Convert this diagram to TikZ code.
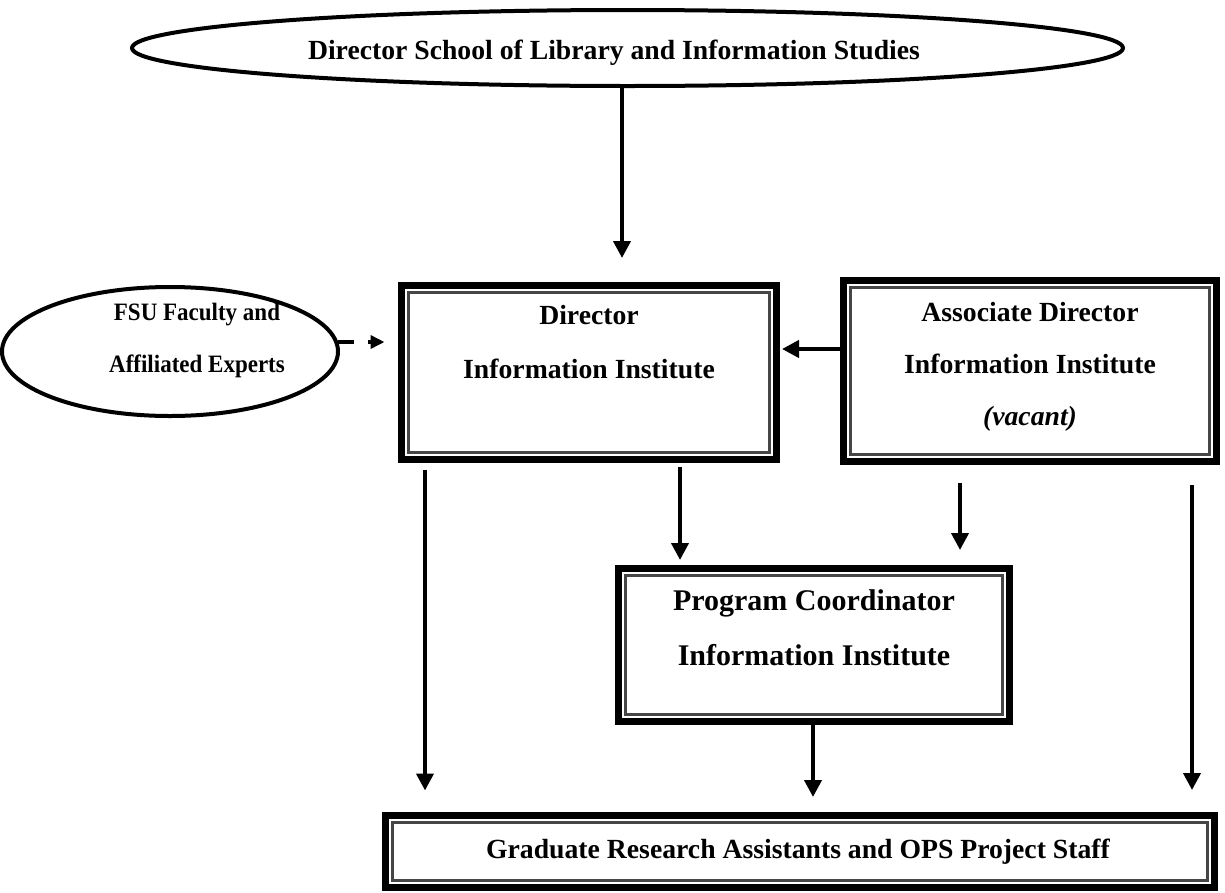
\documentclass[tikz,border=0pt]{standalone}
\usepackage{fontspec}
\setmainfont{Liberation Serif}
\newfontfamily\narrowserif[FakeStretch=0.92]{Liberation Serif}
\usetikzlibrary{arrows.meta,shapes.geometric}
\begin{document}
\begin{tikzpicture}[x=1pt,y=-1pt,
  dbox/.style={draw, line width=7pt, rectangle, outer sep=0pt, inner sep=0pt,
    path picture={\draw[gray!55!black, line width=2.5pt]
      ([shift={(7pt,-7pt)}]path picture bounding box.north west) rectangle
      ([shift={(-7pt,7pt)}]path picture bounding box.south east);}},
  oval/.style={draw, ellipse, line width=4pt, inner sep=0pt, outer sep=0pt},
  txt/.style={font=\fontsize{27.7}{54}\selectfont\bfseries, align=center, inner sep=0pt},
  arr/.style={line width=4pt, -{Triangle[length=17pt,width=17pt]}},
  darr/.style={line width=4pt, dash pattern=on 16pt off 14pt, -{Triangle[length=14pt,width=13pt]}}
]
\useasboundingbox (0,0) rectangle (1225,892);

% shapes
\node[oval, minimum width=991pt, minimum height=76pt] (top) at (627.5,48) {};
\node[oval, minimum width=336pt, minimum height=129pt] (fsu) at (170,351.5) {};
\node[dbox, minimum width=375pt, minimum height=174pt] (dir) at (589,372.5) {};
\node[dbox, minimum width=373pt, minimum height=181pt] (assoc) at (1030,371) {};
\node[dbox, minimum width=391pt, minimum height=153pt] (pc) at (814,645) {};
\node[dbox, minimum width=829pt, minimum height=72pt] (gra) at (800,851.5) {};

% texts
\node[txt] (topT) at (614,52.5) {Director School of Library and Information Studies};
\node[txt, font=\narrowserif\fontsize{25}{52}\selectfont\bfseries] (fsuT) at (197,340) {FSU Faculty and\\Affiliated Experts};
\node[txt] (dirT) at (589,342) {Director\\Information Institute};
\node[txt, font=\fontsize{27.7}{52}\selectfont\bfseries] (assocT) at (1030,367) {Associate Director\\Information Institute\\\textit{(vacant)}};
\node[txt, font=\fontsize{30}{55}\selectfont\bfseries] (pcT) at (814,628) {Program Coordinator\\Information Institute};
\node[txt] (graT) at (798,852) {Graduate Research Assistants and OPS Project Staff};

% columns
\coordinate (c0) at (622,0);
\coordinate (c1) at (425,0);
\coordinate (c2) at (680,0);
\coordinate (c3) at (960,0);
\coordinate (c4) at (1192,0);
\coordinate (c5) at (813,0);
\coordinate (r1) at (0,349);

% connectors
\draw[arr, shorten >=27.5pt] (c0 |- top.south) -- (c0 |- dir.north);
\draw[darr, shorten >=17pt] ([yshift=9.5pt]fsu.east) -- ([yshift=9.5pt]fsu.east -| dir.west);
\draw[arr, shorten >=5.5pt] (r1 -| assoc.west) -- (r1 -| dir.east);
\draw[arr, shorten <=10pt, shorten >=25pt] (c1 |- dir.south) -- (c1 |- gra.north);
\draw[arr, shorten <=7.5pt, shorten >=8.5pt] (c2 |- dir.south) -- (c2 |- pc.north);
\draw[arr, shorten <=21.5pt, shorten >=18.5pt] (c3 |- assoc.south) -- (c3 |- pc.north);
\draw[arr, shorten <=23.5pt, shorten >=25.5pt] (c4 |- assoc.south) -- (c4 |- gra.north);
\draw[arr, shorten >=18.5pt] (c5 |- pc.south) -- (c5 |- gra.north);
\end{tikzpicture}
\end{document}
